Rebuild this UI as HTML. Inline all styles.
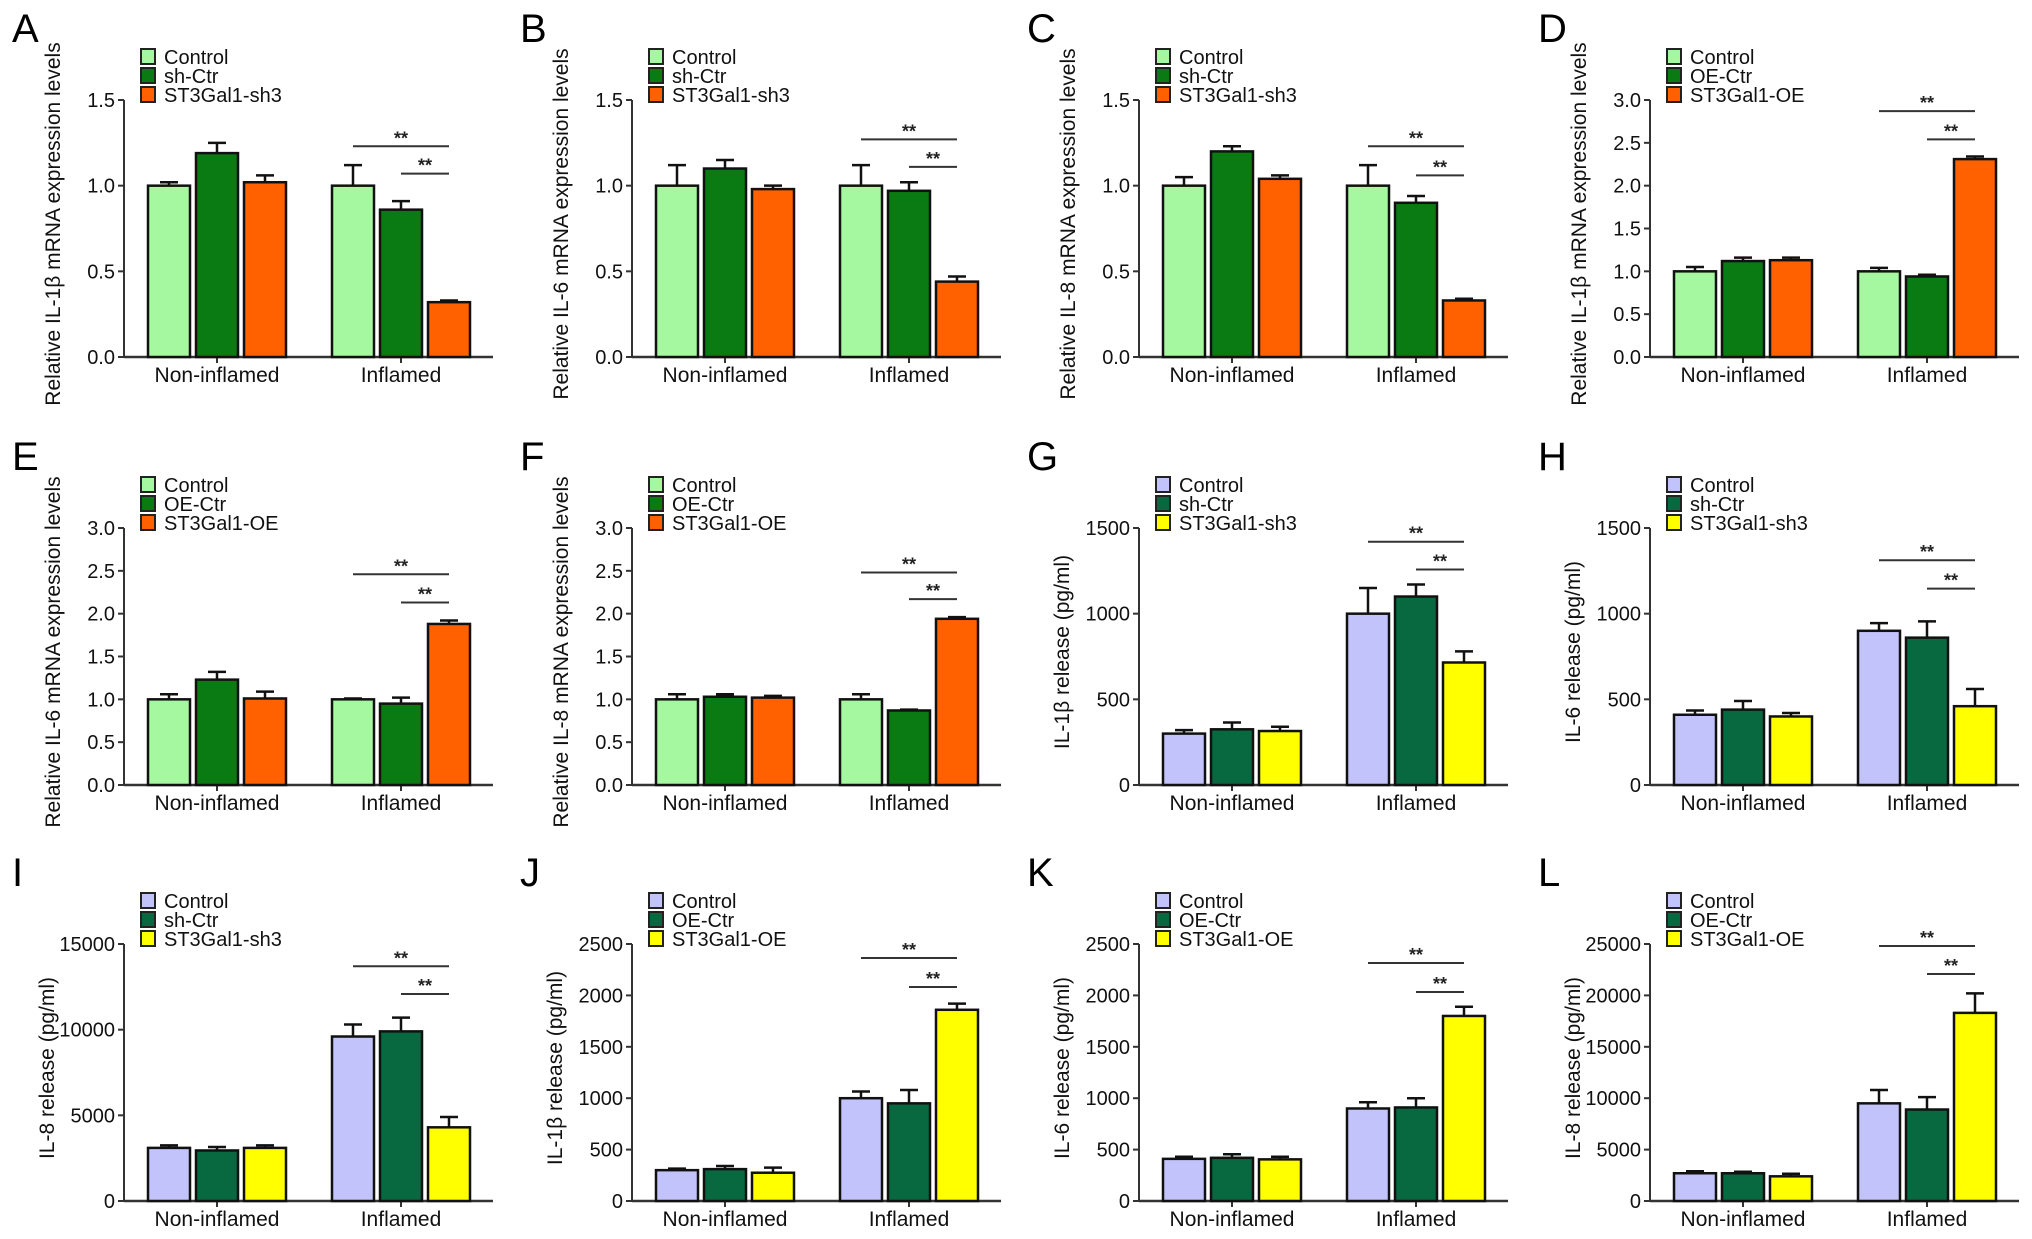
<!DOCTYPE html>
<html><head><meta charset="utf-8">
<style>
html,body{margin:0;padding:0;background:#fff;}
svg{display:block;font-family:"Liberation Sans",Arial,sans-serif;}
</style></head>
<body>
<svg id="fig" width="2032" height="1239" viewBox="0 0 2032 1239" xmlns="http://www.w3.org/2000/svg"></svg>
<script>
// ---- data ----
const categories = ["Non-inflamed", "Inflamed"];
const panelLetters = ["A","B","C","D","E","F","G","H","I","J","K","L"];
const yTitles = [
 "Relative IL-1\u03b2 mRNA expression levels","Relative IL-6 mRNA expression levels","Relative IL-8 mRNA expression levels","Relative IL-1\u03b2 mRNA expression levels",
 "Relative IL-6 mRNA expression levels","Relative IL-8 mRNA expression levels","IL-1\u03b2 release (pg/ml)","IL-6 release (pg/ml)",
 "IL-8 release (pg/ml)","IL-1\u03b2 release (pg/ml)","IL-6 release (pg/ml)","IL-8 release (pg/ml)"];
const legendSh = ["Control","sh-Ctr","ST3Gal1-sh3"];
const legendOE = ["Control","OE-Ctr","ST3Gal1-OE"];
const ticks15 = [0,0.5,1.0,1.5];
const ticks30 = [0,0.5,1.0,1.5,2.0,2.5,3.0];
const ticks1500 = [0,500,1000,1500];
const ticks15000 = [0,5000,10000,15000];
const ticks2500 = [0,500,1000,1500,2000,2500];
const ticks25000 = [0,5000,10000,15000,20000,25000];

// means: [non-inflamed x3, inflamed x3]; errs same order; brackets [long, short]
const aMeans=[1.0,1.19,1.02,1.0,0.86,0.32], aErrs=[0.02,0.06,0.04,0.12,0.05,0.01], aBr=[1.23,1.07];
const bMeans=[1.0,1.10,0.98,1.0,0.97,0.44], bErrs=[0.12,0.05,0.02,0.12,0.05,0.03], bBr=[1.27,1.11];
const cMeans=[1.0,1.20,1.04,1.0,0.90,0.33], cErrs=[0.05,0.03,0.02,0.12,0.04,0.01], cBr=[1.23,1.06];
const dMeans=[1.0,1.12,1.13,1.0,0.94,2.31], dErrs=[0.05,0.04,0.03,0.04,0.02,0.03], dBr=[2.87,2.54];
const eMeans=[1.0,1.23,1.01,1.0,0.95,1.88], eErrs=[0.06,0.09,0.08,0.01,0.07,0.04], eBr=[2.46,2.13];
const fMeans=[1.0,1.03,1.02,1.0,0.87,1.94], fErrs=[0.06,0.03,0.02,0.06,0.01,0.02], fBr=[2.48,2.17];
const gMeans=[300,325,315,1000,1100,715], gErrs=[20,40,25,150,70,65], gBr=[1420,1258];
const hMeans=[410,440,400,900,860,460], hErrs=[25,50,20,45,95,100], hBr=[1312,1146];
const iMeans=[3100,2950,3100,9600,9900,4300], iErrs=[150,200,150,700,800,600], iBr=[13700,12080];
const jMeans=[300,310,275,1000,950,1860], jErrs=[15,30,50,65,130,60], jBr=[2364,2082];
const kMeans=[410,420,405,900,910,1800], kErrs=[20,35,25,60,90,90], kBr=[2315,2033];
const lMeans=[2700,2700,2400,9500,8900,18300], lErrs=[200,150,250,1300,1200,1900], lBr=[24800,22080];

const allMeans=[aMeans,bMeans,cMeans,dMeans,eMeans,fMeans,gMeans,hMeans,iMeans,jMeans,kMeans,lMeans];
const allErrs=[aErrs,bErrs,cErrs,dErrs,eErrs,fErrs,gErrs,hErrs,iErrs,jErrs,kErrs,lErrs];
const allBr=[aBr,bBr,cBr,dBr,eBr,fBr,gBr,hBr,iBr,jBr,kBr,lBr];
const allTicks=[ticks15,ticks15,ticks15,ticks30,ticks30,ticks30,ticks1500,ticks1500,ticks15000,ticks2500,ticks2500,ticks25000];
const allLegends=[legendSh,legendSh,legendSh,legendOE,legendOE,legendOE,legendSh,legendSh,legendSh,legendOE,legendOE,legendOE];

// ---- layout / style (not data) ----
const colX=[124,632,1139,1650];
const rowY0=[357,785,1201];
const plotH=257;
const greenPal=["#a6f8a0","#0a7a12","#ff6100"];
const bluePal=["#c3c3fb","#086840","#ffff00"];
const NS="http://www.w3.org/2000/svg";
const svg=document.getElementById('fig');
function mk(tag,attrs,parent){const e=document.createElementNS(NS,tag);for(const k in attrs)e.setAttribute(k,attrs[k]);(parent||svg).appendChild(e);return e;}
function fmt(v,isDec){return isDec?v.toFixed(1):String(v);}

for(let p=0;p<12;p++){
  const ax=colX[p%4], y0=rowY0[Math.floor(p/4)];
  const ticks=allTicks[p], ymax=ticks[ticks.length-1];
  const yS=v=>y0-v/ymax*plotH;
  const xBar=i=>ax+(i<3?24+i*48:208+(i-3)*48);
  const pal=p<6?greenPal:bluePal;
  const isDec=p<6;
  const g=mk('g',{});
  
  

  const L=mk('text',{x:ax-112,y:y0-315,'font-size':40,fill:'#000'},g);
  L.textContent=panelLetters[p];
  
  

  const tx=ax-(isDec?64:70), ty=y0-133;
  const T=mk('text',{x:tx,y:ty,'font-size':21,'text-anchor':'middle',transform:`rotate(-90 ${tx} ${ty})`,fill:'#111'},g);
  T.textContent=yTitles[p];
  
  

  const ya=mk('line',{x1:ax,y1:yS(ymax),x2:ax,y2:y0,stroke:'#333','stroke-width':2},g);
  
  
  const xa=mk('line',{x1:ax,y1:y0,x2:ax+369,y2:y0,stroke:'#333','stroke-width':2.5},g);
  
  
  ticks.forEach(t=>{
    mk('line',{x1:ax-6,y1:yS(t),x2:ax,y2:yS(t),stroke:'#333','stroke-width':2},g);
    const tl=mk('text',{x:ax-9,y:yS(t)+7,'font-size':20,'text-anchor':'end',fill:'#111'},g);
    tl.textContent=fmt(t,isDec);
    
    
  });
  categories.forEach((c,ci)=>{
    const cx=xBar(ci*3+1)+21;
    mk('line',{x1:cx,y1:y0,x2:cx,y2:y0+6,stroke:'#333','stroke-width':2},g);
    const cl=mk('text',{x:cx,y:y0+25,'font-size':21,'text-anchor':'middle',fill:'#111'},g);
    cl.textContent=c;
    
    
  });

  const means=allMeans[p], errs=allErrs[p];
  means.forEach((m,i)=>{
    const x=xBar(i), top=yS(m), eTop=yS(m+errs[i]), cx=x+21;
    const el=mk('line',{x1:cx,y1:top,x2:cx,y2:eTop,stroke:'#111','stroke-width':2.5},g);
    
    
    mk('line',{x1:cx-9,y1:eTop,x2:cx+9,y2:eTop,stroke:'#111','stroke-width':2.5},g);
    const r=mk('rect',{x:x,y:top,width:42,height:y0-top,fill:pal[i%3],stroke:'#111','stroke-width':2.5},g);
    
    
  });

  const br=allBr[p];
  const c1=xBar(3)+21, c2=xBar(4)+21, c3=xBar(5)+21;
  [[c1,br[0]],[c2,br[1]]].forEach(([xs,v])=>{
    const yy=yS(v);
    const bl=mk('line',{x1:xs,y1:yy,x2:c3,y2:yy,stroke:'#333','stroke-width':2},g);
    
    
    const st=mk('text',{x:(xs+c3)/2,y:yy-2,'font-size':18,'font-weight':'bold','text-anchor':'middle',fill:'#222'},g);
    st.textContent='**';
    
    
  });

  const lg=allLegends[p];
  lg.forEach((name,i)=>{
    const ly=y0-308+i*19;
    const b=mk('rect',{x:ax+17,y:ly,width:14,height:15,fill:pal[i],stroke:'#222','stroke-width':2},g);
    
    
    const lt=mk('text',{x:ax+40,y:ly+15,'font-size':20,fill:'#111'},g);
    lt.textContent=name;
    
    
  });
}
</script>
</body></html>
